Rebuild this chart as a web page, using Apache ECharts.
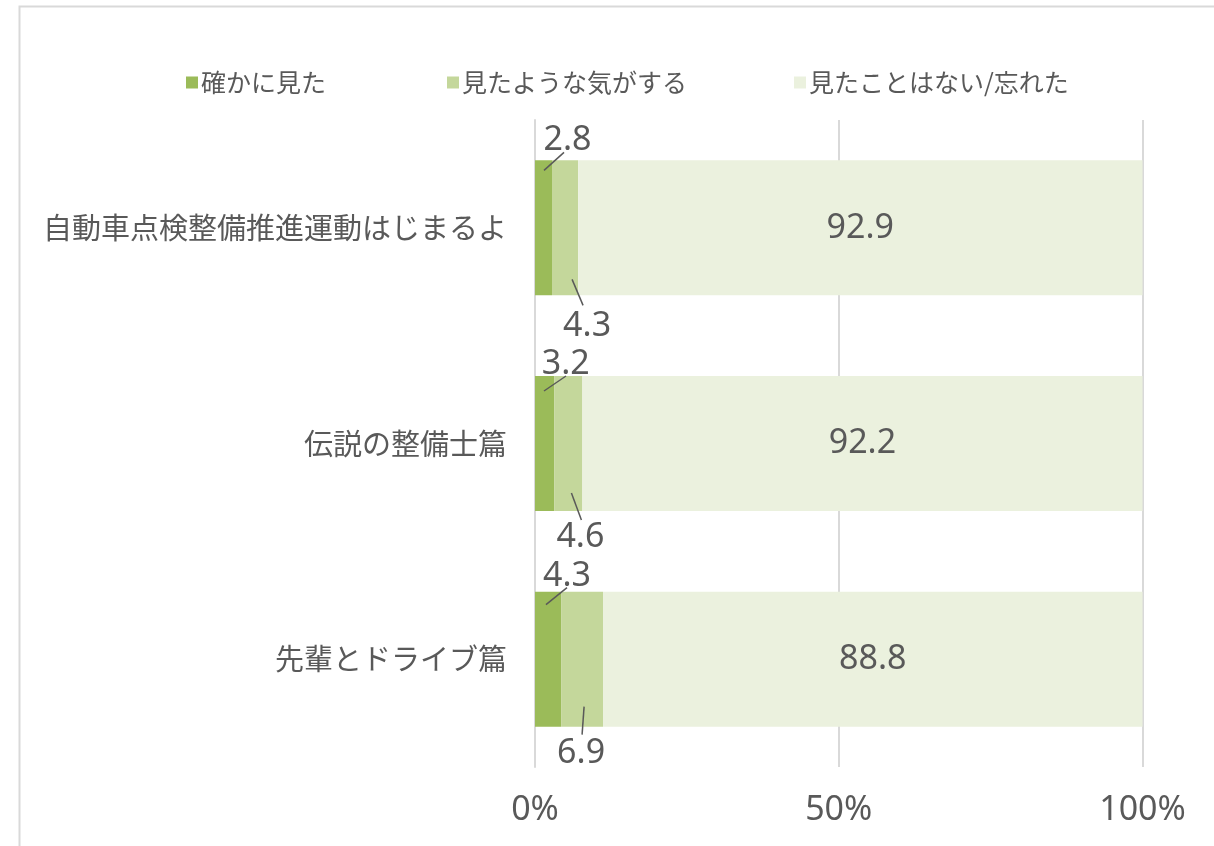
<!DOCTYPE html>
<html>
<head>
<meta charset="utf-8">
<script src="https://cdn.jsdelivr.net/npm/echarts@6/dist/echarts.min.js"></script>
<style>
html,body{margin:0;padding:0;background:#fff;}
#c{width:1214px;height:846px;}
</style>
</head>
<body>
<div id="c"></div>
<script>
// ---- data ----
const categories = ['自動車点検整備推進運動はじまるよ', '伝説の整備士篇', '先輩とドライブ篇'];
const seriesNames = ['確かに見た', '見たような気がする', '見たことはない/忘れた'];
const sawSurely = [2.8, 3.2, 4.3];
const sawMaybe = [4.3, 4.6, 6.9];
const neverSaw = [92.9, 92.2, 88.8];
const xTicks = [0, 50, 100];

// ---- styling (pixel nudges for labels / leader lines) ----
const labelNudge = {
  dark: [[24, -3], [21, 5], [19, 2]],
  mid: [[22, 14], [12, 9], [-1, 10]]
};
const leader = {
  dark: [[9, 10, 29, -8], [9, 15, 31, 0], [11, 13, 32, -4]],
  mid: [[7, -16, 18, 10], [3, -18, 13, 9], [2, -20, 0, 8]]
};
const colors = ['#9BBB59', '#C4D79B', '#EBF1DE'];
const textColor = '#595959';
const BAR_RATIO = 0.626;
const numFont = 'Noto Sans';
const cjkFont = '"Noto Sans CJK JP", "Noto Sans", sans-serif';

const chart = echarts.init(document.getElementById('c'));

function legendAt(left, name) {
  return {
    left: left, top: 65, data: [name], icon: 'rect', itemWidth: 12, itemHeight: 12, itemGap: 0,
    textStyle: { color: textColor, fontSize: 25, fontFamily: cjkFont, padding: [0, 0, 0, -2] },
    selectedMode: false
  };
}

const labelBase = { show: true, color: textColor, fontSize: 34, fontFamily: numFont };

chart.setOption({
  animation: false,
  backgroundColor: '#fff',
  graphic: [{
    type: 'rect', left: 17, top: 4, silent: true,
    shape: { width: 1400, height: 1000 },
    style: { fill: 'none', stroke: '#D9D9D9', lineWidth: 2 }
  }],
  legend: [legendAt(181, seriesNames[0]), legendAt(442, seriesNames[1]), legendAt(789, seriesNames[2])],
  grid: { left: 535, right: 71.5, top: 120, bottom: 79, containLabel: false },
  xAxis: {
    type: 'value', min: 0, max: 100, interval: 50,
    axisLine: { show: false }, axisTick: { show: false },
    splitLine: { show: true, lineStyle: { color: '#D9D9D9', width: 2 } },
    axisLabel: {
      color: textColor, fontSize: 34, fontFamily: numFont, margin: 26,
      formatter: v => (xTicks.indexOf(v) >= 0 ? v + '%' : '')
    }
  },
  yAxis: {
    type: 'category', data: categories, inverse: true,
    axisLine: { show: true, lineStyle: { color: '#D9D9D9', width: 2 } },
    axisTick: { show: false },
    axisLabel: { color: textColor, fontSize: 29, fontFamily: cjkFont, margin: 28 }
  },
  series: [
    {
      name: seriesNames[0], type: 'bar', stack: 'total', barWidth: (BAR_RATIO * 100) + '%',
      itemStyle: { color: colors[0] },
      data: sawSurely.map((v, i) => ({
        value: v,
        label: Object.assign({}, labelBase, { position: 'top', distance: 0, offset: labelNudge.dark[i] })
      }))
    },
    {
      name: seriesNames[1], type: 'bar', stack: 'total',
      itemStyle: { color: colors[1] },
      data: sawMaybe.map((v, i) => ({
        value: v,
        label: Object.assign({}, labelBase, { position: 'bottom', distance: 0, offset: labelNudge.mid[i] })
      }))
    },
    {
      name: seriesNames[2], type: 'bar', stack: 'total',
      itemStyle: { color: colors[2] },
      label: Object.assign({}, labelBase, { position: 'inside' }),
      data: neverSaw
    },
    {
      type: 'custom', silent: true, z: 10,
      encode: { x: 0, y: 1 },
      data: categories.map((c, i) => [0, i]),
      renderItem: function (params, api) {
        const i = params.dataIndex;
        const band = api.size([0, 1])[1];
        const h = band * BAR_RATIO;
        const left = api.coord([0, i]);
        const top = left[1] - h / 2, bottom = left[1] + h / 2;
        const midC = api.coord([sawSurely[i] + sawMaybe[i] / 2, i]);
        const d = leader.dark[i], m = leader.mid[i];
        const st = { stroke: textColor, lineWidth: 1.5 };
        return {
          type: 'group', children: [
            { type: 'line', shape: { x1: left[0] + d[0], y1: top + d[1], x2: left[0] + d[2], y2: top + d[3] }, style: st },
            { type: 'line', shape: { x1: midC[0] + m[0], y1: bottom + m[1], x2: midC[0] + m[2], y2: bottom + m[3] }, style: st }
          ]
        };
      }
    }
  ]
});
</script>
</body>
</html>
